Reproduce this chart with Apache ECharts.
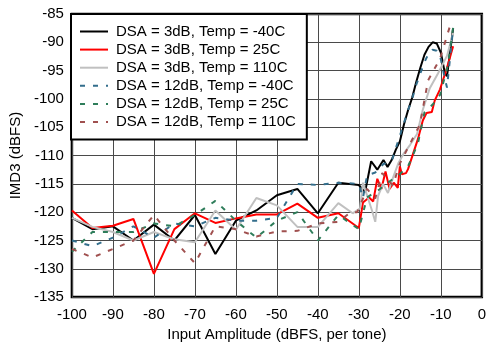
<!DOCTYPE html>
<html>
<head>
<meta charset="utf-8">
<script src="https://cdn.jsdelivr.net/npm/echarts@6/dist/echarts.min.js"></script>
<style>html,body{margin:0;padding:0;background:#fff}#c{width:489px;height:347px}</style>
</head>
<body>
<div id="c"></div>
<script>
const seriesNames = ["DSA = 3dB, Temp = -40C","DSA = 3dB, Temp = 25C","DSA = 3dB, Temp = 110C","DSA = 12dB, Temp = -40C","DSA = 12dB, Temp = 25C","DSA = 12dB, Temp = 110C"];
const xTicks = [-100,-90,-80,-70,-60,-50,-40,-30,-20,-10,0];

const xBlack = [-100,-95,-90,-85,-80,-75,-70,-65,-60,-55,-50,-45,-40,-35,-30,-28.5,-27,-25.5,-24,-23,-22,-21,-20,-19,-18,-17,-16,-15,-14,-13,-12,-11,-10,-9,-8.5,-7];
const yBlack = [-121,-123,-122.5,-125,-122.2,-125,-120.5,-127.4,-121.5,-119.7,-117,-115.9,-120.2,-114.8,-115.2,-116.5,-111,-112.5,-110.8,-112,-110.8,-109,-107.5,-104.5,-102,-99.8,-97,-94.5,-92.2,-90.8,-90,-90.2,-91.8,-95.5,-96,-87.5];

const xRed = [-100,-95,-90,-85,-80,-75,-70,-65,-60,-55,-50,-45,-40,-35,-30,-29,-27.5,-26.5,-25.5,-24.5,-23.5,-22.5,-21.5,-20.5,-20,-19.5,-18.5,-18,-17,-15.6,-14.4,-13.5,-12.2,-11.5,-10.2,-8.5,-7];
const yRed = [-119.7,-122.8,-122.4,-121.2,-130.9,-123,-120.2,-121.9,-121.1,-120.4,-120.4,-118.5,-121,-120.2,-122.8,-118.3,-117.4,-118.1,-114.1,-115.9,-112.8,-115.9,-114.8,-115.7,-111.9,-113.3,-113.1,-112.4,-110.2,-107.1,-103.8,-102.5,-102.3,-100.3,-98.3,-94.5,-90.7];

const xGrey = [-100,-95,-90,-85,-80,-75,-70,-65,-60,-55,-50,-45,-40,-35,-31.5,-29.7,-29,-26.8,-26,-25.3,-24.1,-22.9,-21.7,-20.4,-19.2,-17.5,-15.8,-14.4,-12.7,-10.7,-8.5,-7];
const yGrey = [-121,-122.6,-123.5,-125,-123.5,-124.8,-125.3,-119.7,-123.1,-117.5,-118.8,-122.6,-122.6,-118.4,-120.2,-119.3,-114.8,-119.7,-121.7,-117.1,-115,-116.6,-114,-111.4,-109.8,-108.1,-106.2,-101.9,-98.1,-95.5,-92.4,-88.3];

const xBlue = [-100,-95,-90,-85,-80,-75,-70,-65,-60,-55,-50,-45,-40,-35,-30,-29,-28,-26,-24,-22,-20,-18,-17,-16,-15,-14,-13,-12,-11,-10,-9,-8.5,-7];
const yBlue = [-125,-126,-124.5,-122.5,-124.5,-122,-122.5,-121,-121.5,-121.5,-121,-115,-115.2,-114.8,-115,-117.5,-113.5,-113,-111.5,-111,-106.5,-102,-100,-97.5,-95.5,-93.5,-92,-91.3,-91.5,-93,-96.5,-98,-87.5];

const xGreen = [-100,-95,-90,-85,-80,-75,-70,-65,-60,-55,-50,-45,-40,-35,-30,-28,-25,-23,-20.5,-18,-15.6,-14,-12,-10.2,-8.3,-7];
const yGreen = [-127,-123.5,-123.5,-123.5,-122,-122.5,-120.5,-118,-121.5,-124.5,-121.5,-120,-125,-120.5,-123,-117.4,-116,-114.8,-113.6,-111.9,-107.9,-102.4,-101,-99.3,-94.1,-87.4];

const xBrown = [-100,-95,-90,-85,-80,-75,-70,-65,-60,-55,-50,-45,-40,-35,-32,-30.4,-28,-26,-24.3,-21.7,-20,-17.5,-15.1,-13.1,-10.2,-7.8];
const yBrown = [-126.5,-128,-126.5,-125,-120.5,-125,-129,-122.5,-123,-124.3,-123.4,-123.3,-122,-121.7,-120,-120,-115.9,-117.6,-113.1,-115.3,-111.4,-107.9,-104.5,-96.7,-92.9,-87.2];

const zip = (xs, ys) => xs.map((x, i) => [x, ys[i]]);
const FONT = 'Liberation Sans, Arial, sans-serif';

const styles = [
  {color:'#000000', type:'solid'},
  {color:'#ff0000', type:'solid'},
  {color:'#c0c0c0', type:'solid'},
  {color:'#336e8c', type:[5,8]},
  {color:'#2e7d5a', type:[5,8]},
  {color:'#a0504f', type:[5,8]}
];
const data = [zip(xBlack,yBlack), zip(xRed,yRed), zip(xGrey,yGrey), zip(xBlue,yBlue), zip(xGreen,yGreen), zip(xBrown,yBrown)];

const chart = echarts.init(document.getElementById('c'), null, {renderer:'canvas'});
chart.setOption({
  animation:false,
  backgroundColor:'#fff',
  grid:{left:71, right:7, top:14, bottom:43, show:true, borderColor:'#000', borderWidth:2.5, backgroundColor:'transparent'},
  xAxis:{type:'value', min:-100, max:0, interval:10,
    name:'Input Amplitude (dBFS, per tone)', nameLocation:'middle', nameGap:28,
    nameTextStyle:{fontFamily:FONT, fontSize:15, color:'#000'},
    axisLine:{show:false}, axisTick:{show:false},
    axisLabel:{fontFamily:FONT, fontSize:15, color:'#000', margin:10, formatter:v=>xTicks.includes(v)?String(v):''},
    splitLine:{show:true, lineStyle:{color:'#4a4a4a', width:1}}},
  yAxis:{type:'value', min:-135, max:-85, interval:5,
    name:'IMD3 (dBFS)', nameLocation:'middle', nameGap:44,
    nameTextStyle:{fontFamily:FONT, fontSize:15, color:'#000'},
    axisLine:{show:false}, axisTick:{show:false},
    axisLabel:{fontFamily:FONT, fontSize:15, color:'#000', margin:8},
    splitLine:{show:true, lineStyle:{color:'#4a4a4a', width:1}}},
  legend:{orient:'vertical', left:71, top:14, padding:[10,11,10,8], itemGap:3.1,
    itemWidth:28, itemHeight:14, backgroundColor:'#fff', borderColor:'#000', borderWidth:2,
    itemStyle:{opacity:0},
    textStyle:{fontFamily:FONT, fontSize:15, color:'#000', lineHeight:14, padding:[0,0,0,3]},
    data:seriesNames},
  series:seriesNames.map((n,i)=>({
    name:n, type:'line', data:data[i], symbol:'none',
    lineStyle:{color:styles[i].color, width:2, type:styles[i].type},
    itemStyle:{color:styles[i].color}
  }))
});
</script>
</body>
</html>
